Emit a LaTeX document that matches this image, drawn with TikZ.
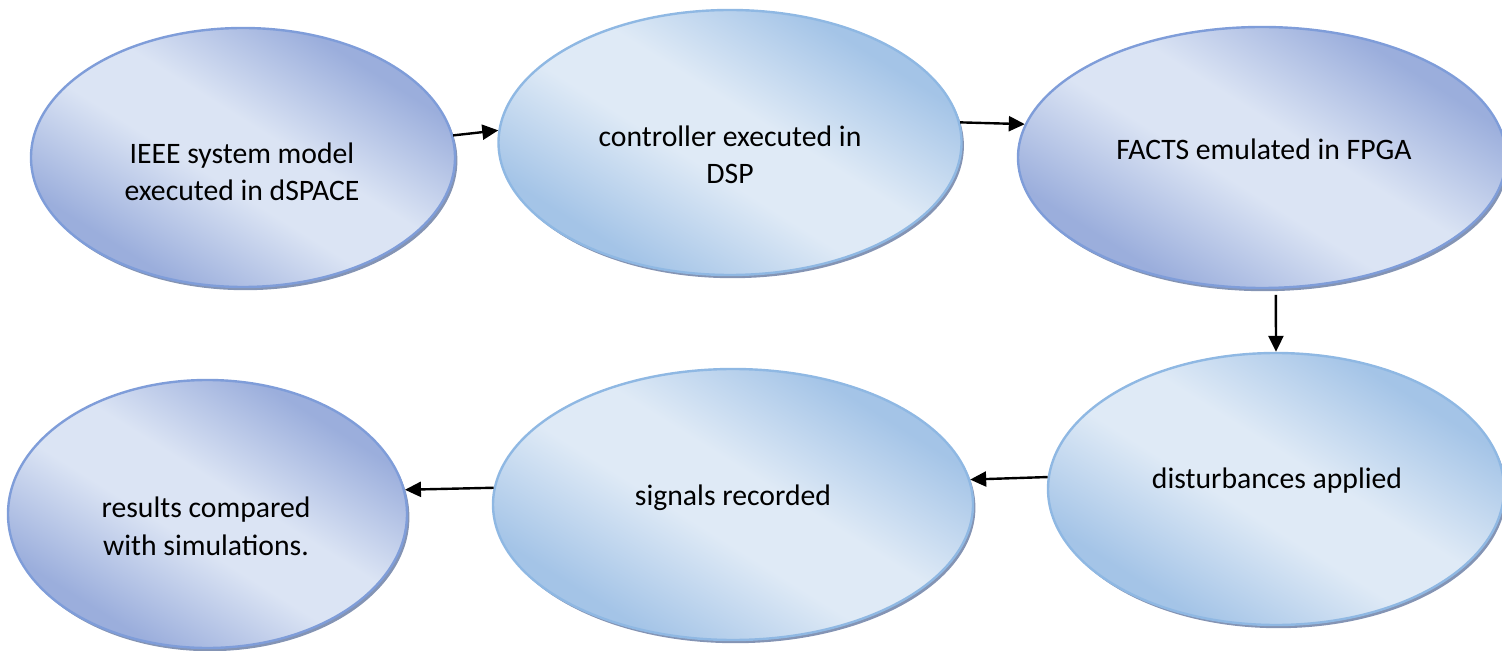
\documentclass[tikz,border=0pt]{standalone}
\usepackage{fontspec}
\setmainfont{Carlito}
\usetikzlibrary{shapes.geometric,arrows.meta,shadows}

\definecolor{pdark}{RGB}{155,174,220}
\definecolor{plight}{RGB}{219,228,244}
\definecolor{pline}{RGB}{127,157,217}
\definecolor{sdark}{RGB}{164,196,231}
\definecolor{slight}{RGB}{223,234,246}
\definecolor{sline}{RGB}{143,184,227}
\definecolor{shadowc}{RGB}{132,148,180}

% dark -> light plateau -> dark, laid across each bubble diagonally
\pgfdeclareverticalshading{pgrad}{100bp}{color(0bp)=(pdark); color(28bp)=(pdark);
  color(45bp)=(plight); color(55bp)=(plight); color(72bp)=(pdark); color(100bp)=(pdark)}
\pgfdeclareverticalshading{sgrad}{100bp}{color(0bp)=(sdark); color(28bp)=(sdark);
  color(45bp)=(slight); color(55bp)=(slight); color(72bp)=(sdark); color(100bp)=(sdark)}

\begin{document}
\begin{tikzpicture}[x=0.5pt,y=-0.5pt,
  bubble/.style={ellipse, inner sep=0pt, line width=1.2pt,
    drop shadow={shadow xshift=1.2pt, shadow yshift=-1.6pt, fill=shadowc, opacity=1}},
  pbubble/.style={bubble, draw=pline, shading=pgrad, shading angle=-32},
  sbubble/.style={bubble, draw=sline, shading=sgrad, shading angle=-32},
  lbl/.style={font=\fontsize{14.85}{18.8}\selectfont, align=center, inner sep=0pt, anchor=base},
  flow/.style={-{Triangle[length=8pt,width=7.5pt]}, line width=1.2pt, black}]

\useasboundingbox (0,0) rectangle (1502,651);
\clip (0,0) rectangle (1502,651);

% the six stages
\node[pbubble, minimum width=212pt, minimum height=129.5pt] (e1) at (243,157.5) {};
\node[sbubble, minimum width=231.5pt, minimum height=132.5pt] (e2) at (730,142.5) {};
\node[pbubble, minimum width=244pt, minimum height=130.5pt] (e3) at (1262,157.5) {};
\node[sbubble, minimum width=228pt, minimum height=136pt] (e4) at (1276,489) {};
\node[sbubble, minimum width=240pt, minimum height=135.5pt] (e5) at (733,504.5) {};
\node[pbubble, minimum width=199.5pt, minimum height=134pt] (e6) at (207.5,514) {};

% stage texts (base anchor sits on the last line)
\node[lbl] (t1) at (242,201) {IEEE system model\\executed in dSPACE};
\node[lbl] (t2) at (730,184) {controller executed in\\DSP};
\node[lbl] (t3) at (1264,160) {FACTS emulated in FPGA};
\node[lbl] (t4) at (1277,488) {disturbances applied};
\node[lbl] (t5) at (733,505) {signals recorded};
\node[lbl] (t6) at (206,555) {results compared\\with simulations.};

% flow between stages
\draw[flow] (e1.6.4) -- (e2.177.4);
\draw[flow] (e2.5) -- (e3.172.3);
\draw[flow, shorten <=3pt] (e3.-84.2) -- (e4.90);
\draw[flow] (e4.177.2) -- (e5.6.3);
\draw[flow] (e5.176.1) -- (e6.7.5);
\end{tikzpicture}
\end{document}
